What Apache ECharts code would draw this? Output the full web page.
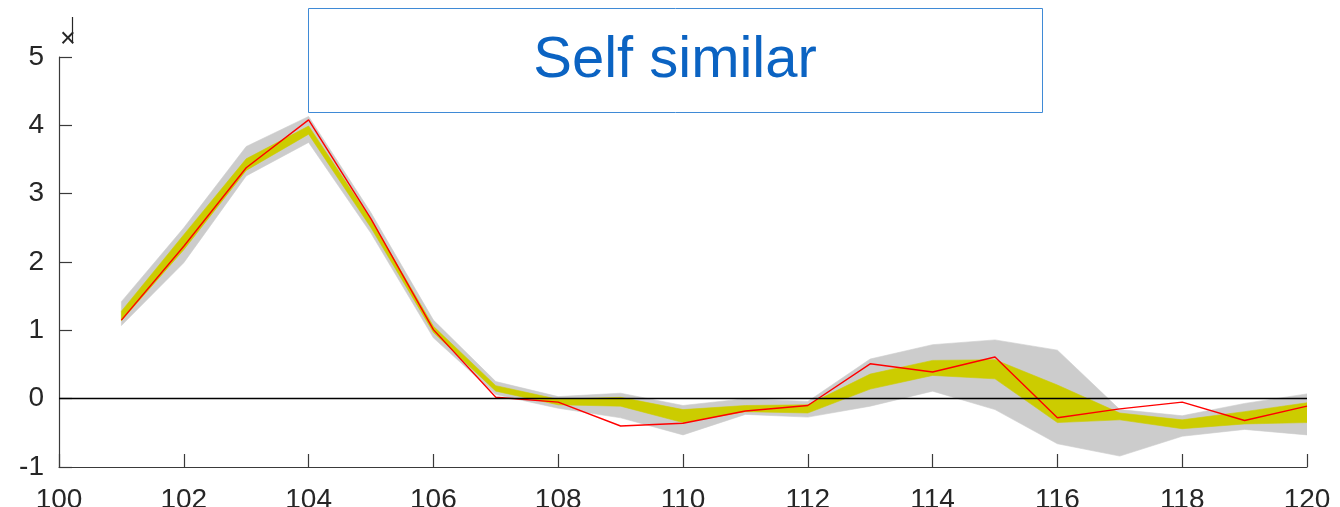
<!DOCTYPE html>
<html>
<head>
<meta charset="utf-8">
<style>
  html, body { margin: 0; padding: 0; background: #ffffff; }
  #chart { width: 1340px; height: 507px; }
</style>
<script src="https://cdn.jsdelivr.net/npm/echarts@6/dist/echarts.min.js"></script>
</head>
<body>
<div id="chart"></div>
<script>
// Sample positions
const xs = [101, 102, 103, 104, 105, 106, 107, 108, 109, 110,
            111, 112, 113, 114, 115, 116, 117, 118, 119, 120];

// Observed series (red)
const observed = [1.15, 2.23, 3.38, 4.08, 2.63, 1.01, 0.02, -0.05, -0.40, -0.36,
                  -0.18, -0.10, 0.51, 0.39, 0.61, -0.28, -0.15, -0.05, -0.32, -0.11];

// Inner band (yellow)
const innerLow  = [1.14, 2.18, 3.34, 3.87, 2.50, 0.97, 0.11, -0.09, -0.11, -0.35,
                   -0.19, -0.21, 0.14, 0.34, 0.29, -0.35, -0.31, -0.44, -0.37, -0.35];
const innerHigh = [1.28, 2.40, 3.51, 3.99, 2.62, 1.06, 0.19, -0.01, 0.02, -0.16,
                   -0.10, -0.09, 0.36, 0.56, 0.57, 0.20, -0.21, -0.31, -0.19, -0.06];

// Outer band (grey)
const outerLow  = [1.07, 1.99, 3.26, 3.75, 2.42, 0.89, 0.06, -0.14, -0.28, -0.53,
                   -0.23, -0.27, -0.11, 0.11, -0.16, -0.66, -0.84, -0.55, -0.45, -0.53];
const outerHigh = [1.42, 2.50, 3.69, 4.13, 2.72, 1.15, 0.25, 0.03, 0.08, -0.10,
                   0.00, -0.04, 0.58, 0.79, 0.86, 0.71, -0.16, -0.25, -0.07, 0.07];

// Axis ticks
const xTicks = { min: 100, max: 120, step: 2 };
const yTicks = { min: -1, max: 5, step: 1 };

const titleText = 'Self similar';

const FONT = "'Liberation Sans', Helvetica, Arial, sans-serif";
const AXIS_COLOR = '#3a3a3a';
const TEXT_COLOR = '#262626';

const pairs = (vals) => xs.map((x, i) => [x, vals[i]]);

// A filled band between two curves, drawn as one polygon through the axes' scales
const bandSeries = (low, high, color, z) => ({
  type: 'custom', z, silent: true, clip: true,
  data: xs.map((x, i) => [x, low[i], high[i]]),
  encode: { x: 0, y: [1, 2] },
  renderItem: (params, api) => {
    if (params.dataIndex !== 0) return null;
    const upper = xs.map((x, i) => api.coord([x, high[i]]));
    const lower = xs.map((x, i) => api.coord([x, low[i]])).reverse();
    return {
      type: 'polygon',
      shape: { points: upper.concat(lower) },
      style: { fill: color, stroke: color, lineWidth: 0.6 }
    };
  }
});

const chart = echarts.init(document.getElementById('chart'), null, { renderer: 'canvas' });

chart.setOption({
  animation: false,
  backgroundColor: '#ffffff',
  grid: { left: 59, right: 33, top: 57, bottom: 40, containLabel: false, outerBoundsMode: 'none' },
  xAxis: {
    type: 'value',
    min: xTicks.min, max: xTicks.max, interval: xTicks.step,
    axisLine: { show: true, onZero: false, lineStyle: { color: AXIS_COLOR, width: 1.2 } },
    axisTick: { show: true, inside: true, length: 13, lineStyle: { color: AXIS_COLOR, width: 1.2 } },
    axisLabel: { color: TEXT_COLOR, fontFamily: FONT, fontSize: 28, margin: 19 },
    splitLine: { show: false }
  },
  yAxis: {
    type: 'value',
    min: yTicks.min, max: yTicks.max, interval: yTicks.step,
    axisLine: { show: true, lineStyle: { color: AXIS_COLOR, width: 1.2 } },
    axisTick: { show: true, inside: true, length: 13, lineStyle: { color: AXIS_COLOR, width: 1.2 } },
    axisLabel: { color: TEXT_COLOR, fontFamily: FONT, fontSize: 28, margin: 15 },
    splitLine: { show: false }
  },
  series: [
    // zero reference line, beneath the bands
    {
      type: 'line', data: [], z: 1, silent: true,
      markLine: {
        silent: true, symbol: ['none', 'none'], label: { show: false },
        lineStyle: { color: '#000000', width: 1.3, type: 'solid' },
        data: [{ yAxis: 0 }]
      }
    },
    bandSeries(outerLow, outerHigh, '#cccccc', 2),
    bandSeries(innerLow, innerHigh, '#cccc00', 3),
    {
      type: 'line', z: 4, data: pairs(observed), showSymbol: false, silent: true,
      lineStyle: { color: '#ff0000', width: 1.4 }
    }
  ],
  graphic: [
    {
      type: 'rect', z: 10,
      shape: { x: 308.5, y: 8.5, width: 734, height: 104 },
      style: { fill: '#ffffff', stroke: '#3f8ad6', lineWidth: 1 }
    },
    {
      type: 'text', z: 11, x: 675, y: 61,
      style: {
        text: titleText, fill: '#0b63c2', font: '58px ' + FONT,
        align: 'center', verticalAlign: 'middle'
      }
    },
    {
      type: 'text', z: 11, x: 68, y: 40,
      style: { text: '×', fill: TEXT_COLOR, font: '27px ' + FONT, align: 'center', verticalAlign: 'middle' }
    },
    {
      type: 'line', z: 11,
      shape: { x1: 72.5, y1: 17, x2: 72.5, y2: 42 },
      style: { stroke: TEXT_COLOR, lineWidth: 1.2 }
    }
  ]
});
</script>
</body>
</html>
